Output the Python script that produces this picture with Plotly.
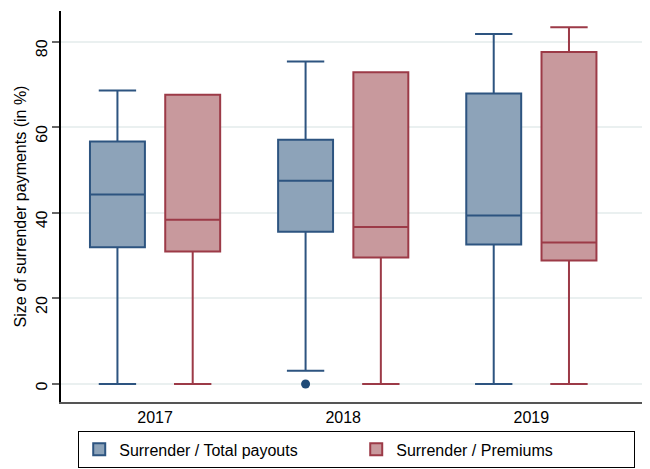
import plotly.graph_objects as go

years = ["2017", "2018", "2019"]

# Surrender / Total payouts
tp_min = [0.0, 0.0, 0.0]
tp_low = [0.0, 3.1, 0.0]
tp_q1 = [32.0, 35.6, 32.6]
tp_med = [44.3, 47.5, 39.4]
tp_q3 = [56.7, 57.1, 67.9]
tp_high = [68.6, 75.4, 81.8]

# Surrender / Premiums
pr_low = [0.0, 0.0, 0.0]
pr_q1 = [31.0, 29.6, 28.9]
pr_med = [38.4, 36.7, 33.1]
pr_q3 = [67.6, 72.9, 77.6]
pr_high = [67.6, 72.9, 83.4]

FONT = "Liberation Sans, Arial, sans-serif"

fig = go.Figure()
fig.add_trace(go.Box(
    x=years, y=[[v] for v in tp_min], name="Surrender / Total payouts",
    q1=tp_q1, median=tp_med, q3=tp_q3, lowerfence=tp_low, upperfence=tp_high,
    boxpoints="outliers", fillcolor="#8DA3B9",
    line=dict(color="#2D5480", width=2),
    marker=dict(color="#1F4A77", size=9, outliercolor="#1F4A77"),
    whiskerwidth=0.68,
))
fig.add_trace(go.Box(
    x=years, name="Surrender / Premiums",
    q1=pr_q1, median=pr_med, q3=pr_q3, lowerfence=pr_low, upperfence=pr_high,
    boxpoints=False, fillcolor="#C8999D",
    line=dict(color="#9C3A47", width=2),
    whiskerwidth=0.68,
))

# the page body keeps its default 8px margin, so the figure is sized 8px smaller
fig.update_layout(
    width=642, height=461,
    margin=dict(l=53, r=2, t=3, b=66),
    paper_bgcolor="white", plot_bgcolor="white",
    font=dict(family=FONT, size=16, color="black"),
    boxmode="group", boxgap=0.2, boxgroupgap=0.27,
    showlegend=True,
    legend=dict(
        orientation="h", x=0.029, xanchor="left", y=-0.072, yanchor="top",
        bordercolor="black", borderwidth=1.2, entrywidth=232,
        font=dict(size=16), itemsizing="constant",
    ),
)
fig.update_xaxes(
    type="category", range=[-0.5, 2.62], automargin=False,
    showline=True, linecolor="#555555", linewidth=1.5,
    ticks="", showgrid=False, tickfont=dict(size=16),
)
fig.update_yaxes(
    range=[-4.2, 87.2], tickvals=[0, 20, 40, 60, 80], tickangle=-89.9,
    ticklabelstandoff=10, automargin=False,
    showline=True, linecolor="black", linewidth=1.5,
    ticks="outside", ticklen=7, tickcolor="#666666", tickwidth=1.5,
    showgrid=True, gridcolor="#EAF0F0", gridwidth=1.5, zeroline=False,
    tickfont=dict(size=16),
    title=dict(text="Size of surrender payments (in %)", font=dict(size=16), standoff=2),
)

fig.write_html("out.html")
